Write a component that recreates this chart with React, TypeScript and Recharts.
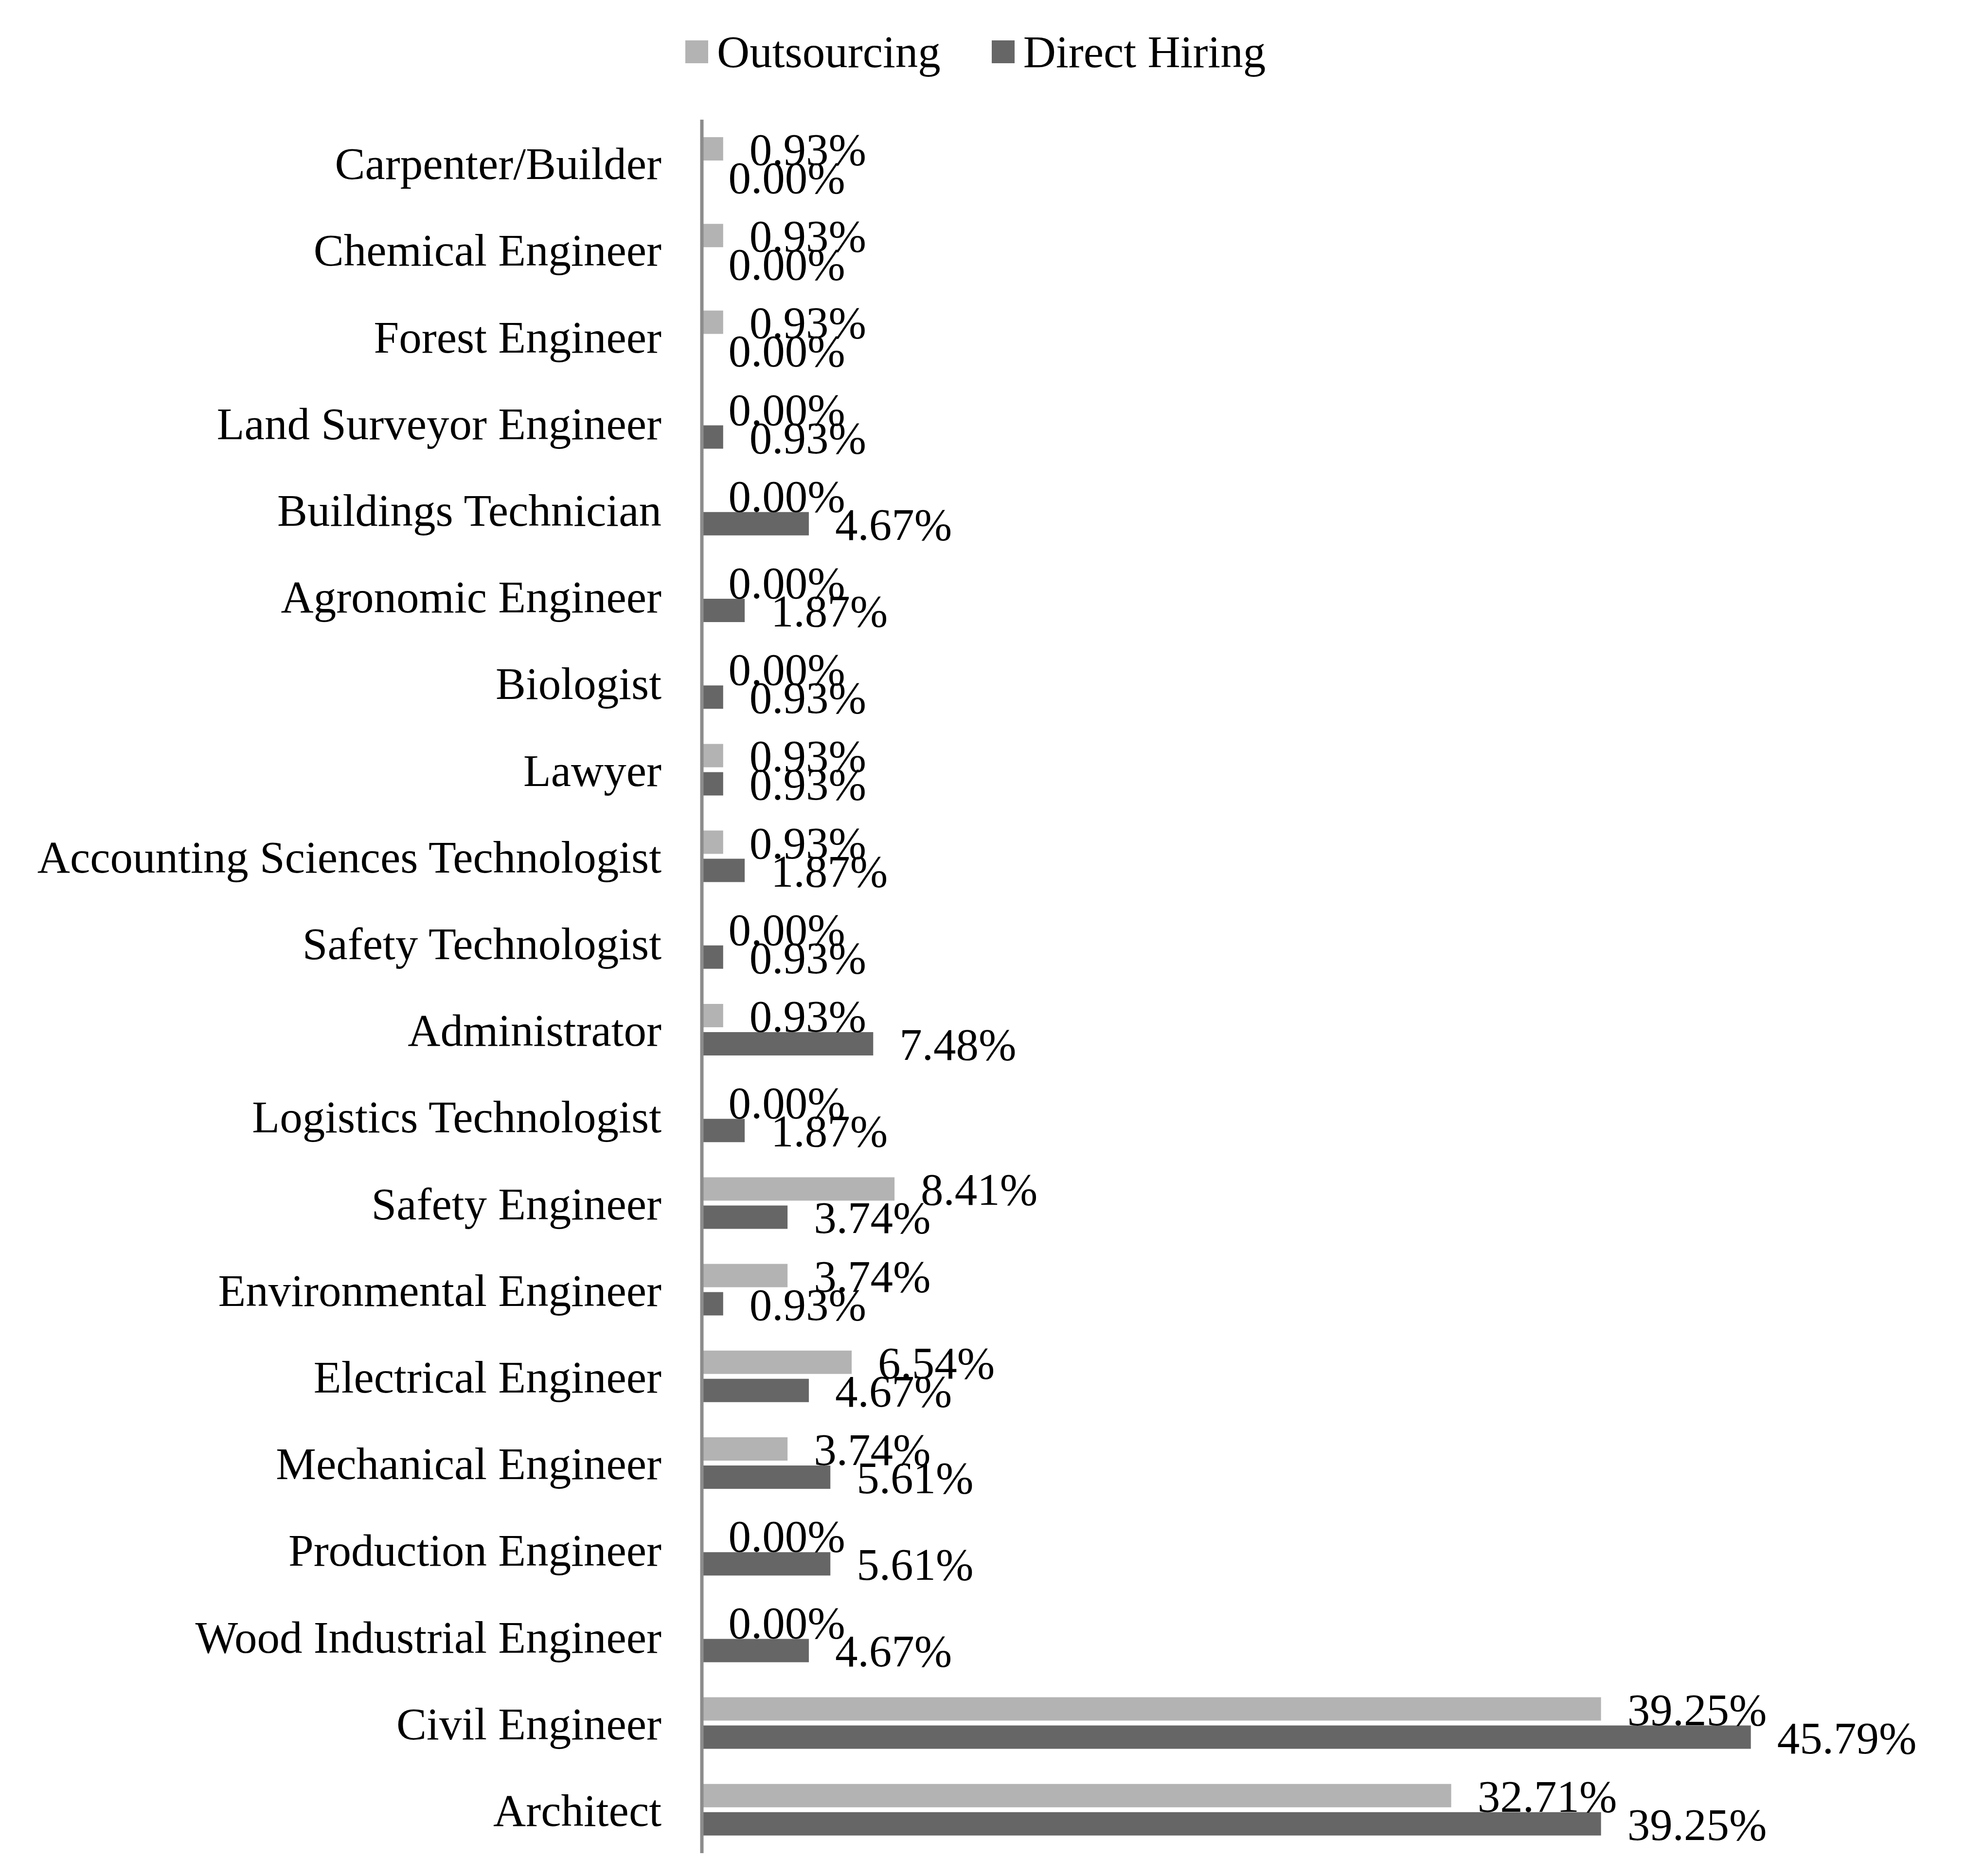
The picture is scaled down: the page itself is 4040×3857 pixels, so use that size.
import { BarChart, Bar, XAxis, YAxis, Legend, LabelList } from 'recharts';

const categories = [
  'Carpenter/Builder',
  'Chemical Engineer',
  'Forest Engineer',
  'Land Surveyor Engineer',
  'Buildings Technician',
  'Agronomic Engineer',
  'Biologist',
  'Lawyer',
  'Accounting Sciences Technologist',
  'Safety Technologist',
  'Administrator',
  'Logistics Technologist',
  'Safety Engineer',
  'Environmental Engineer',
  'Electrical Engineer',
  'Mechanical Engineer',
  'Production Engineer',
  'Wood Industrial Engineer',
  'Civil Engineer',
  'Architect',
];

const outsourcing = [0.93, 0.93, 0.93, 0, 0, 0, 0, 0.93, 0.93, 0, 0.93, 0, 8.41, 3.74, 6.54, 3.74, 0, 0, 39.25, 32.71];
const directHiring = [0, 0, 0, 0.93, 4.67, 1.87, 0.93, 0.93, 1.87, 0.93, 7.48, 1.87, 3.74, 0.93, 4.67, 5.61, 5.61, 4.67, 45.79, 39.25];

const data = categories.map((name, i) => ({
  name,
  outsourcing: outsourcing[i],
  direct: directHiring[i],
}));

const FONT = '"Liberation Serif", "Times New Roman", serif';
const LIGHT = '#b3b3b3';
const DARK = '#666666';

const pct = (v: any) => `${Number(v).toFixed(2)}%`;

const LegendBox = () => {
  const items = [
    { label: 'Outsourcing', color: LIGHT },
    { label: 'Direct Hiring', color: DARK },
  ];
  return (
    <div style={{ display: 'flex', alignItems: 'center', marginLeft: 1401, height: 94, fontFamily: FONT, fontSize: 93, lineHeight: 1, color: '#000' }}>
      {items.map((it, i) => (
        <div key={it.label} style={{ display: 'flex', alignItems: 'center', marginRight: i === 0 ? 105 : 0 }}>
          <div style={{ width: 47, height: 47, background: it.color, marginRight: 18 }} />
          <span style={{ whiteSpace: 'nowrap' }}>{it.label}</span>
        </div>
      ))}
    </div>
  );
};

const App = () => {
  return (
    <BarChart
      width={3990}
      height={3842}
      data={data}
      layout="vertical"
      margin={{ top: 238, right: 200, left: 0, bottom: 40 }}
      barSize={48}
      barGap={10}
    >
      <Legend
        verticalAlign="middle"
        align="center"
        layout="horizontal"
        wrapperStyle={{ top: 51, left: 0, width: 3990 }}
        content={() => <LegendBox />}
      />
      <XAxis type="number" domain={[0, 50]} hide />
      <YAxis
        type="category"
        dataKey="name"
        width={1435}
        interval={0}
        tickLine={false}
        tickSize={0}
        tickMargin={83}
        axisLine={{ stroke: '#8c8c8c', strokeWidth: 7 }}
        tick={{ fill: '#000', fontSize: 93, fontFamily: FONT }}
      />
      <Bar dataKey="outsourcing" name="Outsourcing" fill={LIGHT} minPointSize={0.5} isAnimationActive={false}>
        <LabelList dataKey="outsourcing" position="right" offset={54} formatter={pct} fill="#000" fontSize={93} fontFamily={FONT} />
      </Bar>
      <Bar dataKey="direct" name="Direct Hiring" fill={DARK} minPointSize={0.5} isAnimationActive={false}>
        <LabelList dataKey="direct" position="right" offset={54} formatter={pct} fill="#000" fontSize={93} fontFamily={FONT} />
      </Bar>
    </BarChart>
  );
};

export default App;
